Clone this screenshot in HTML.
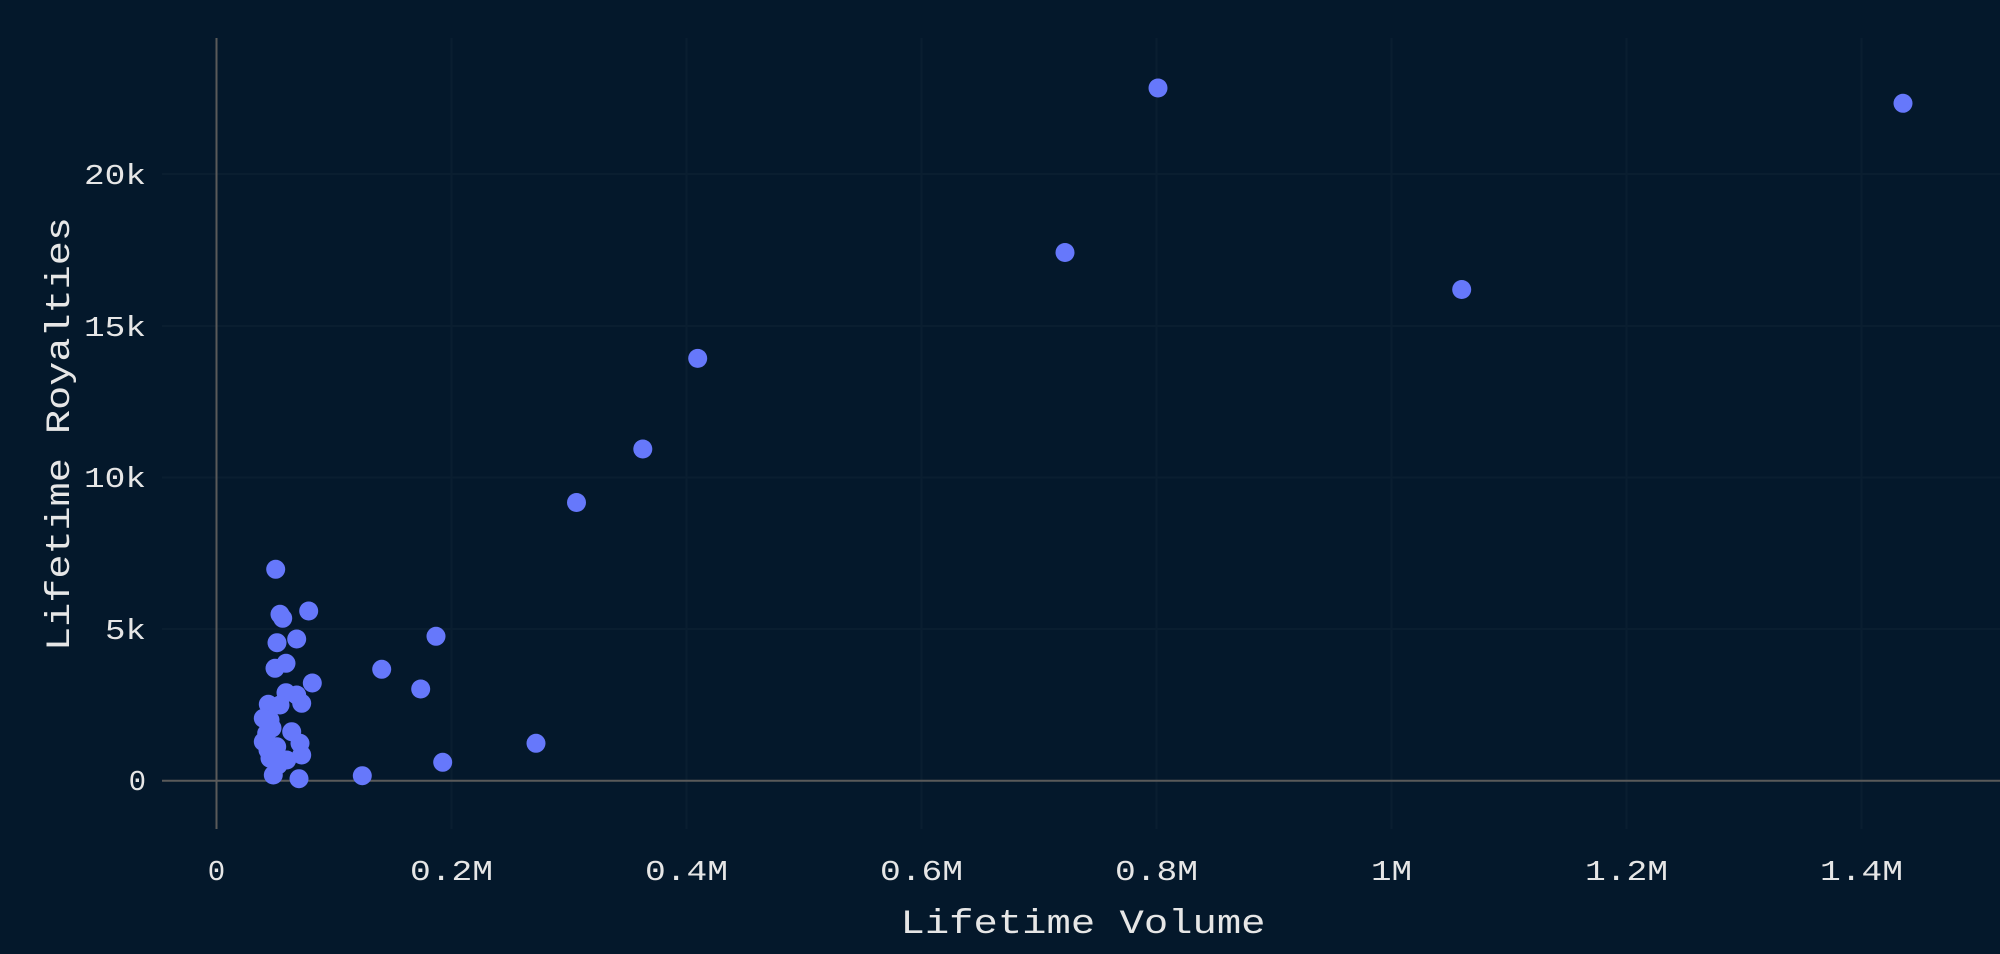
<!DOCTYPE html>
<html><head><meta charset="utf-8"><style>
html,body{margin:0;padding:0;background:#04182b;}
svg{display:block}
text{font-family:"Liberation Mono","DejaVu Sans Mono",monospace;fill:#e6e6e6;font-size:29px}
.t{font-size:34px}
</style></head><body>
<svg width="2000" height="954" viewBox="0 0 2000 954">
<rect width="2000" height="954" fill="#04182b"/>
<g stroke="#0a1e30" stroke-width="2">
<line x1="451.5" y1="38" x2="451.5" y2="829"/>
<line x1="686.5" y1="38" x2="686.5" y2="829"/>
<line x1="921.5" y1="38" x2="921.5" y2="829"/>
<line x1="1156.5" y1="38" x2="1156.5" y2="829"/>
<line x1="1391.5" y1="38" x2="1391.5" y2="829"/>
<line x1="1626.5" y1="38" x2="1626.5" y2="829"/>
<line x1="1861.5" y1="38" x2="1861.5" y2="829"/>
<line x1="162" y1="629" x2="2000" y2="629"/>
<line x1="162" y1="477.5" x2="2000" y2="477.5"/>
<line x1="162" y1="326" x2="2000" y2="326"/>
<line x1="162" y1="174" x2="2000" y2="174"/>
</g>
<g stroke="#5a5a5a" stroke-width="2">
<line x1="216.5" y1="38" x2="216.5" y2="829"/>
<line x1="162" y1="780.7" x2="2000" y2="780.7"/>
</g>
<g text-anchor="end">
<text x="146" y="790">0</text>
<text x="146" y="639" textLength="41" lengthAdjust="spacingAndGlyphs">5k</text>
<text x="146" y="487" textLength="62" lengthAdjust="spacingAndGlyphs">10k</text>
<text x="146" y="336" textLength="62" lengthAdjust="spacingAndGlyphs">15k</text>
<text x="146" y="184" textLength="62" lengthAdjust="spacingAndGlyphs">20k</text>
</g>
<g text-anchor="middle">
<text x="216.5" y="880">0</text>
<text x="451.5" y="880" textLength="83" lengthAdjust="spacingAndGlyphs">0.2M</text>
<text x="686.5" y="880" textLength="83" lengthAdjust="spacingAndGlyphs">0.4M</text>
<text x="921.5" y="880" textLength="83" lengthAdjust="spacingAndGlyphs">0.6M</text>
<text x="1156.5" y="880" textLength="83" lengthAdjust="spacingAndGlyphs">0.8M</text>
<text x="1391.5" y="880" textLength="41" lengthAdjust="spacingAndGlyphs">1M</text>
<text x="1626.5" y="880" textLength="83" lengthAdjust="spacingAndGlyphs">1.2M</text>
<text x="1861.5" y="880" textLength="83" lengthAdjust="spacingAndGlyphs">1.4M</text>
<text class="t" x="1083" y="933" textLength="365" lengthAdjust="spacingAndGlyphs">Lifetime Volume</text>
<text class="t" transform="translate(69,434) rotate(-90)" textLength="434" lengthAdjust="spacingAndGlyphs">Lifetime Royalties</text>
</g>
<g fill="#6678fb">
<circle cx="275.7" cy="569.3" r="9.5"/><circle cx="280" cy="614.3" r="9.5"/><circle cx="282.7" cy="618.3" r="9.5"/>
<circle cx="308.7" cy="611" r="9.5"/><circle cx="436" cy="636.3" r="9.5"/><circle cx="277" cy="642.7" r="9.5"/>
<circle cx="296.7" cy="639" r="9.5"/><circle cx="275" cy="668.3" r="9.5"/><circle cx="286" cy="663.3" r="9.5"/>
<circle cx="381.7" cy="669.3" r="9.5"/><circle cx="312.3" cy="683" r="9.5"/><circle cx="420.7" cy="689" r="9.5"/>
<circle cx="286" cy="692.7" r="9.5"/><circle cx="296.7" cy="695" r="9.5"/><circle cx="301.7" cy="703.3" r="9.5"/>
<circle cx="268.3" cy="704.3" r="9.5"/><circle cx="280" cy="705" r="9.5"/><circle cx="263.3" cy="718.3" r="9.5"/>
<circle cx="270" cy="720" r="9.5"/><circle cx="291.7" cy="731.7" r="9.5"/><circle cx="266.7" cy="733.3" r="9.5"/>
<circle cx="263.3" cy="741.7" r="9.5"/><circle cx="300" cy="743.3" r="9.5"/><circle cx="276.7" cy="746.7" r="9.5"/>
<circle cx="536" cy="743.3" r="9.5"/><circle cx="270" cy="758.3" r="9.5"/><circle cx="286.7" cy="760" r="9.5"/>
<circle cx="301.7" cy="755" r="9.5"/><circle cx="442.7" cy="762.3" r="9.5"/><circle cx="273.3" cy="775" r="9.5"/>
<circle cx="299" cy="778.7" r="9.5"/><circle cx="362.3" cy="775.7" r="9.5"/>
<circle cx="272" cy="728" r="9.5"/><circle cx="268" cy="750" r="9.5"/><circle cx="278" cy="765" r="9.5"/>
<circle cx="1158" cy="88" r="9.5"/><circle cx="1903" cy="103.3" r="9.5"/><circle cx="1065" cy="252.5" r="9.5"/>
<circle cx="1461.7" cy="289.5" r="9.5"/><circle cx="697.7" cy="358.4" r="9.5"/><circle cx="642.8" cy="449" r="9.5"/>
<circle cx="576.5" cy="502.5" r="9.5"/>
</g>
</svg>
</body></html>
